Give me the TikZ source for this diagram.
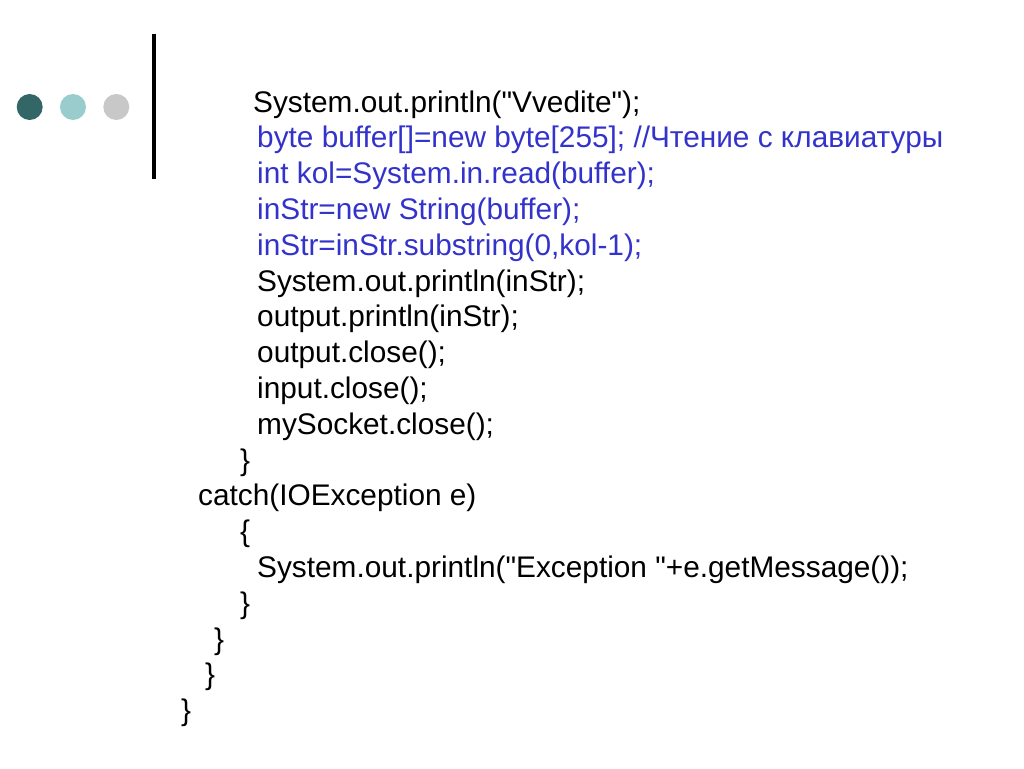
\documentclass[tikz,border=0pt]{standalone}
\usepackage{fontspec}
\setmainfont{Liberation Sans}[Ligatures=TeXOff]
\definecolor{codeblue}{RGB}{51,51,204}
\definecolor{dotdark}{RGB}{51,102,102}
\definecolor{dotlight}{RGB}{153,204,204}
\definecolor{dotgray}{RGB}{200,200,200}

\begin{document}
\begin{tikzpicture}
  [x=1pt, y=-1pt,
   code/.style={anchor=base west, inner sep=0pt, font=\fontsize{29.8}{36}\selectfont},
   blue code/.style={code, text=codeblue},
   dot/.style={circle, inner sep=0pt, minimum size=26pt}]
  \useasboundingbox (0, 0) rectangle (1024, 768);
  % bullets and bar
  \node[dot, fill=dotdark] (dotA) at (29.7, 107) {};
  \node[dot, fill=dotlight] (dotB) at (73, 107) {};
  \node[dot, fill=dotgray] (dotC) at (116.3, 107) {};
  \draw[line width=4.5pt] (154, 34) -- (154, 179);
  % code lines
  \node[code] (l1) at (253, 112) {System.out.println("Vvedite");};
  \node[blue code] (l2) at (257, 147.8) {byte buffer[]=new byte[255]; //Чтение с клавиатуры};
  \node[blue code] (l3) at (257, 183.6) {int kol=System.in.read(buffer);};
  \node[blue code] (l4) at (257, 219.4) {inStr=new String(buffer);};
  \node[blue code] (l5) at (257, 255.2) {inStr=inStr.substring(0,kol-1);};
  \node[code] (l6) at (257, 291) {System.out.println(inStr);};
  \node[code] (l7) at (257, 326.8) {output.println(inStr);};
  \node[code] (l8) at (257, 362.6) {output.close();};
  \node[code] (l9) at (257, 398.4) {input.close();};
  \node[code] (l10) at (257, 434.2) {mySocket.close();};
  \node[code] (l11) at (240, 470) {\}};
  \node[code] (l12) at (198, 505.8) {catch(IOException e)};
  \node[code] (l13) at (240, 541.6) {\{};
  \node[code] (l14) at (257, 577.4) {System.out.println("Exception "+e.getMessage());};
  \node[code] (l15) at (240, 613.2) {\}};
  \node[code] (l16) at (214, 649) {\}};
  \node[code] (l17) at (205, 684.8) {\}};
  \node[code] (l18) at (181, 720.6) {\}};
\end{tikzpicture}
\end{document}
